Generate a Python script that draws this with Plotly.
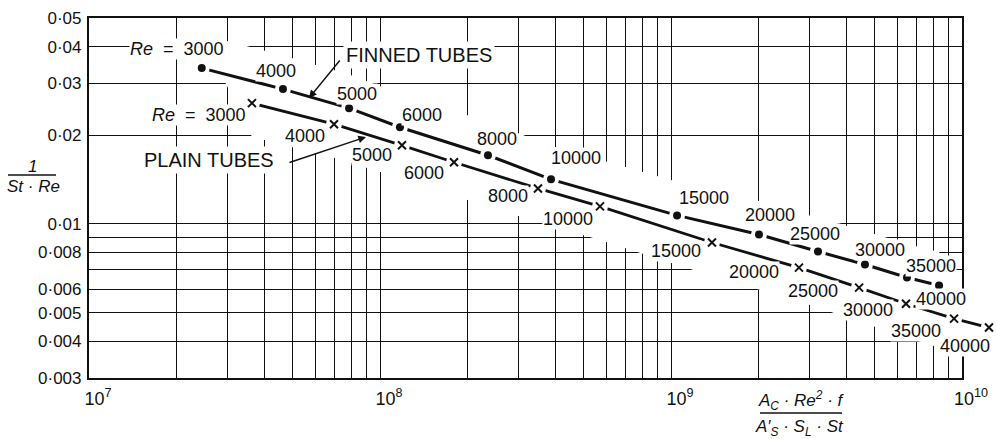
import numpy as np
import plotly.graph_objects as go

# ---------------- data ----------------
re_values = [3000, 4000, 5000, 6000, 8000, 10000, 15000, 20000, 25000, 30000, 35000, 40000]

finned_x = [2.44e7, 4.64e7, 7.83e7, 1.171e8, 2.35e8, 3.87e8,
            1.049e9, 2.006e9, 3.20e9, 4.64e9, 6.47e9, 8.34e9]
finned_y = [0.0338, 0.02868, 0.02472, 0.02129, 0.0171, 0.01417,
            0.01069, 0.00921, 0.00806, 0.00728, 0.00658, 0.00618]

plain_x = [3.63e7, 6.95e7, 1.19e8, 1.796e8, 3.49e8, 5.70e8,
           1.383e9, 2.753e9, 4.43e9, 6.42e9, 9.39e9, 1.238e10]
plain_y = [0.0257, 0.0218, 0.01849, 0.01619, 0.0132, 0.01147,
           0.00865, 0.00711, 0.00608, 0.00536, 0.00477, 0.00445]

x_grid_vals = [m * 10.0 ** e for e in (7, 8, 9) for m in range(1, 10)] + [1e10]
x_decade_labels = {7: '10<sup>7</sup>', 8: '10<sup>8</sup>', 9: '10<sup>9</sup>', 10: '10<sup>10</sup>'}
y_grid_vals = [0.003, 0.004, 0.005, 0.006, 0.007, 0.008, 0.009, 0.01, 0.02, 0.03, 0.04, 0.05]
y_tick_text = ['0·003', '0·004', '0·005', '0·006', '', '0·008', '', '0·01', '0·02', '0·03', '0·04', '0·05']

# label offsets (pixels, screen dx, dy) relative to each point
finned_label_dx = [23, -7, 8, 22, 9, 25, 27, 11, -3, 15, 24, 2]
finned_label_dy = [-19, -18, -14, -12, -16, -21, -17, -19, -18, -15, -12, 13]
plain_label_dx = [-5, -29, -30, -30, -30, -32, -36, -45, -46, -38, -38, -24]
plain_label_dy = [12, 12, 10, 11, 8, 13, 8, 4, 3, 6, 12, 18]

# ---------------- geometry ----------------
W, H = 997, 439
ML, MR, MT, MB = 89, 5, 18, 61
PW = W - ML - MR
PH = H - MT - MB
FRAME_W = 873
grid_frac = FRAME_W / PW
x2_range = [7, 7 + 3 / grid_frac]
y_range = [np.log10(0.003), np.log10(0.05)]


def px(xp):
    return (xp - ML) / PW


def py(yp):
    return (MT + PH - yp) / PH


FONT = 'Liberation Sans'
BLACK = '#111111'

x_tick_text = []
for v in x_grid_vals:
    e = int(round(np.log10(v)))
    x_tick_text.append(x_decade_labels[e] if abs(v - 10.0 ** e) < 1e-3 * v else '')

fig = go.Figure()

# invisible trace to hold the framed grid subplot
fig.add_trace(go.Scatter(x=finned_x, y=finned_y, mode='lines', line=dict(width=0),
                         opacity=0, hoverinfo='skip', showlegend=False, xaxis='x', yaxis='y'))

# white band that erases the graph-paper grid around the curves
band_x = finned_x + plain_x[::-1]
band_y = [v * 1.3 for v in finned_y] + [v / 1.3 for v in plain_y[::-1]]
fig.add_trace(go.Scatter(x=band_x, y=band_y, mode='lines', fill='toself', fillcolor='white',
                         line=dict(width=0), hoverinfo='skip', showlegend=False,
                         xaxis='x2', yaxis='y2'))

# curves
fig.add_trace(go.Scatter(x=finned_x, y=finned_y, mode='lines', line=dict(color=BLACK, width=3),
                         hoverinfo='skip', showlegend=False, xaxis='x2', yaxis='y2'))
fig.add_trace(go.Scatter(x=plain_x, y=plain_y, mode='lines', line=dict(color=BLACK, width=2.8),
                         hoverinfo='skip', showlegend=False, xaxis='x2', yaxis='y2'))
# white halos leaving gaps around the markers
for xs, ys in ((finned_x, finned_y), (plain_x, plain_y)):
    fig.add_trace(go.Scatter(x=xs, y=ys, mode='markers',
                             marker=dict(color='white', size=16, line=dict(width=0)),
                             hoverinfo='skip', showlegend=False, xaxis='x2', yaxis='y2',
                             cliponaxis=False))
fig.add_trace(go.Scatter(x=finned_x, y=finned_y, mode='markers',
                         marker=dict(color=BLACK, size=8, symbol='circle'),
                         name='Finned tubes', showlegend=False, xaxis='x2', yaxis='y2',
                         cliponaxis=False))
fig.add_trace(go.Scatter(x=plain_x, y=plain_y, mode='markers',
                         marker=dict(color=BLACK, size=8, symbol='x-thin',
                                     line=dict(color=BLACK, width=2)),
                         name='Plain tubes', showlegend=False, xaxis='x2', yaxis='y2',
                         cliponaxis=False))

annotations = []
lab_font = dict(family=FONT, size=18, color=BLACK)
name_font = dict(family=FONT, size=20, color=BLACK)
RE_PREFIX = '<i>Re</i>\u00a0\u00a0=\u00a0\u00a0'
for i, (xv, yv, r) in enumerate(zip(finned_x, finned_y, re_values)):
    txt = f'{r}'
    xanchor = 'center'
    if i == 0:
        txt = RE_PREFIX + txt
        xanchor = 'right'
    annotations.append(dict(x=np.log10(xv), y=np.log10(yv), xref='x2', yref='y2', text=txt,
                            showarrow=False, xanchor=xanchor, yanchor='middle',
                            xshift=finned_label_dx[i], yshift=-finned_label_dy[i],
                            font=lab_font, bgcolor='white', borderpad=0))
for i, (xv, yv, r) in enumerate(zip(plain_x, plain_y, re_values)):
    txt = f'{r}'
    xanchor = 'center'
    if i == 0:
        txt = RE_PREFIX + txt
        xanchor = 'right'
    annotations.append(dict(x=np.log10(xv), y=np.log10(yv), xref='x2', yref='y2', text=txt,
                            showarrow=False, xanchor=xanchor, yanchor='middle',
                            xshift=plain_label_dx[i], yshift=-plain_label_dy[i],
                            font=lab_font, bgcolor='white', borderpad=0))

# curve names with pointer arrows
annotations.append(dict(x=px(343), y=py(55), xref='paper', yref='paper', text='FINNED TUBES',
                        showarrow=False, xanchor='left', yanchor='middle', font=name_font,
                        bgcolor='white', borderpad=2))
annotations.append(dict(x=px(141), y=py(160), xref='paper', yref='paper', text='PLAIN TUBES',
                        showarrow=False, xanchor='left', yanchor='middle', font=name_font,
                        bgcolor='white', borderpad=2))
annotations.append(dict(x=px(309), y=py(98), xref='paper', yref='paper', text='',
                        showarrow=True, arrowhead=2, arrowsize=1.1, arrowwidth=1.4,
                        arrowcolor=BLACK, ax=341 - 309, ay=59 - 98))
annotations.append(dict(x=px(366), y=py(137), xref='paper', yref='paper', text='',
                        showarrow=True, arrowhead=2, arrowsize=1.1, arrowwidth=1.4,
                        arrowcolor=BLACK, ax=288 - 366, ay=163 - 137))

# axis titles (fractions)
title_font = dict(family=FONT, size=17, color=BLACK)
annotations.append(dict(x=px(32), y=py(166), xref='paper', yref='paper', text='<i>1</i>',
                        showarrow=False, xanchor='center', yanchor='middle', font=title_font))
annotations.append(dict(x=px(33), y=py(186), xref='paper', yref='paper', text='<i>St · Re</i>',
                        showarrow=False, xanchor='center', yanchor='middle', font=title_font))
annotations.append(dict(x=px(801), y=py(400), xref='paper', yref='paper',
                        text='<i>A<sub>C</sub> · Re<sup>2</sup> · f</i>',
                        showarrow=False, xanchor='center', yanchor='middle', font=title_font))
annotations.append(dict(x=px(799), y=py(428), xref='paper', yref='paper',
                        text='<i>A′<sub>S</sub> · S<sub>L</sub> · St</i>',
                        showarrow=False, xanchor='center', yanchor='middle', font=title_font))

shapes = [
    dict(type='line', xref='paper', yref='paper', x0=px(8), x1=px(56), y0=py(175), y1=py(175),
         line=dict(color=BLACK, width=1.5)),
    dict(type='line', xref='paper', yref='paper', x0=px(760), x1=px(842), y0=py(413), y1=py(413),
         line=dict(color=BLACK, width=1.5)),
]

axis_common = dict(showline=True, mirror=True, linecolor=BLACK, linewidth=2.2,
                   showgrid=True, gridcolor=BLACK, gridwidth=1.2, zeroline=False, ticks='',
                   automargin=False)

fig.update_layout(
    width=W, height=H, autosize=False,
    margin=dict(l=ML, r=MR, t=MT, b=MB, pad=0),
    paper_bgcolor='white', plot_bgcolor='rgba(0,0,0,0)',
    showlegend=False, hovermode=False,
    xaxis=dict(type='log', domain=[0, grid_frac], range=[7, 10], anchor='y',
               tickmode='array', tickvals=x_grid_vals, ticktext=x_tick_text,
               tickfont=dict(family=FONT, size=18, color=BLACK),
               ticklabelshift=9, ticklabelstandoff=3, **axis_common),
    yaxis=dict(type='log', domain=[0, 1], range=y_range, anchor='x',
               tickmode='array', tickvals=y_grid_vals, ticktext=y_tick_text,
               tickfont=dict(family=FONT, size=17, color=BLACK),
               ticklabelstandoff=2, **axis_common),
    xaxis2=dict(type='log', domain=[0, 1], range=x2_range, anchor='y2', visible=False,
                showgrid=False, zeroline=False, automargin=False),
    yaxis2=dict(type='log', domain=[0, 1], range=y_range, anchor='x2', visible=False,
                showgrid=False, zeroline=False, automargin=False),
    annotations=annotations,
    shapes=shapes,
)

fig.write_html('out.html')
